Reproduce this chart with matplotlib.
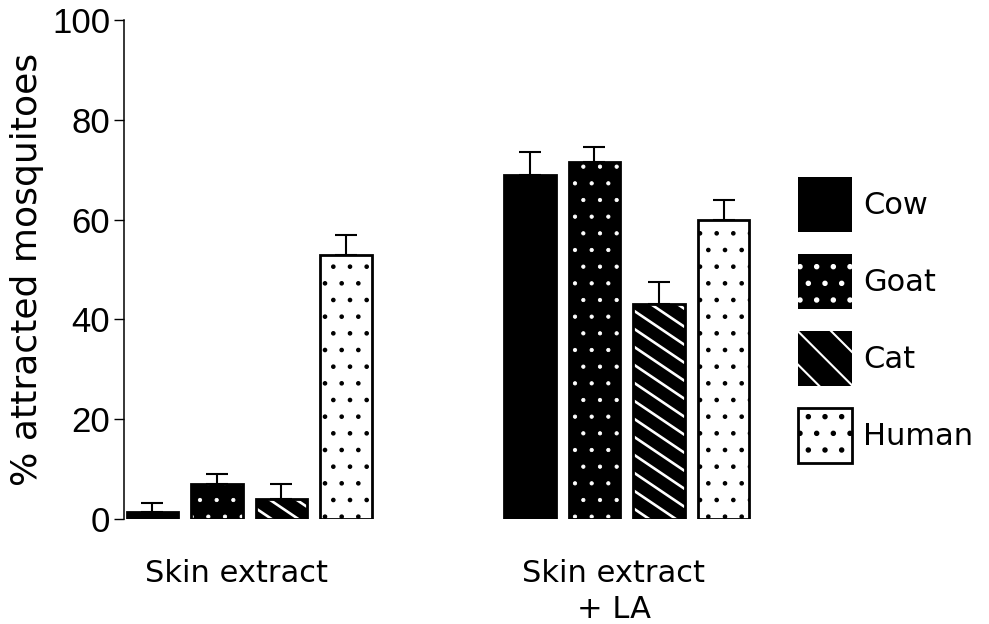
import matplotlib
matplotlib.use("Agg")
import matplotlib.pyplot as plt
from matplotlib.patches import Patch
import numpy as np

plt.rcParams['font.family'] = ['DejaVu Sans']

# Data
groups = ["Skin extract", "Skin extract\n+ LA"]
species = ["Cow", "Goat", "Cat", "Human"]
skin_extract = [1.5, 7.0, 4.0, 53.0]
skin_extract_err = [1.8, 2.0, 3.0, 4.0]
skin_extract_la = [69.0, 71.5, 43.0, 60.0]
skin_extract_la_err = [4.5, 3.0, 4.5, 4.0]
yticks = [0, 20, 40, 60, 80, 100]

# Bar styles per species: face colour, hatch colour, hatch
styles = {
    "Cow":   dict(face="black", hatchcol="black", hatch=None),
    "Goat":  dict(face="black", hatchcol="white", hatch="."),
    "Cat":   dict(face="black", hatchcol="white", hatch=None),
    "Human": dict(face="white", hatchcol="black", hatch="."),
}

fig = plt.figure(figsize=(9.89, 6.24), dpi=100)
ax = fig.add_axes([124 / 989, 1 - 519 / 624, 635 / 989, 499 / 624])
ax.set_xlim(-0.44, 9.4)
ax.set_ylim(0, 100)

n = len(species)
group_offsets = [0.0, 5.85]
width = 0.8
values = [skin_extract, skin_extract_la]
errors = [skin_extract_err, skin_extract_la_err]

# pixel scale of the data axes, used for the slanted stripe texture
sx = ax.bbox.width / (ax.get_xlim()[1] - ax.get_xlim()[0])
sy = ax.bbox.height / (ax.get_ylim()[1] - ax.get_ylim()[0])


def add_stripes(rect, angle_deg=34, pitch_px=18, lw=1.9):
    """White slanted stripes (upper-left to lower-right) clipped to a bar."""
    x0, y0 = rect.get_x(), rect.get_y()
    w, h = rect.get_width(), rect.get_height()
    t = np.tan(np.radians(angle_deg))
    wpx, hpx = w * sx, h * sy
    offs = np.arange(-pitch_px * 0.4, hpx + wpx * t + pitch_px, pitch_px)
    for c in offs:
        xs_px = np.array([0.0, wpx])
        ys_px = c - t * xs_px
        line, = ax.plot(x0 + xs_px / sx, y0 + ys_px / sy, color="white",
                        lw=lw, solid_capstyle="butt", zorder=2.5)
        line.set_clip_path(rect)


for g, off in enumerate(group_offsets):
    xs = off + np.arange(n)
    for i, sp in enumerate(species):
        st = styles[sp]
        with plt.rc_context({"hatch.linewidth": 0.9 if sp == "Human" else 0.6}):
            bars = ax.bar(xs[i], values[g][i], width=width, color=st["face"],
                          edgecolor=st["hatchcol"], hatch=st["hatch"],
                          linewidth=0, zorder=2)
        if sp == "Cat":
            add_stripes(bars[0])
        ax.bar(xs[i], values[g][i], width=width, fill=False,
               edgecolor="black", linewidth=2.0, zorder=3)
    ax.errorbar(xs, values[g], yerr=[np.zeros(n), errors[g]], fmt="none",
                ecolor="black", elinewidth=1.5, capsize=8, capthick=1.5, zorder=1)

# Group labels
centers = [off + (n - 1) / 2 - 0.2 for off in group_offsets]
for c, lab in zip(centers, groups):
    ax.text(c, -8.0, lab, ha="center", va="top", fontsize=22, linespacing=1.3)

ax.set_yticks(yticks)
ax.set_yticklabels([str(t) for t in yticks], fontsize=25, family="Liberation Sans")
ax.tick_params(axis="y", length=7.5, width=1, pad=2.5)
ax.set_xticks([])
for s in ["top", "right", "bottom"]:
    ax.spines[s].set_visible(False)
ax.spines["left"].set_linewidth(1.1)
ax.set_ylabel("% attracted mosquitoes", fontsize=26, labelpad=6)

# Legend
handles = []
for sp in species:
    st = styles[sp]
    if sp == "Cat":
        h = Patch(facecolor="black", edgecolor="white", hatch="\\", linewidth=0)
    elif sp == "Human":
        h = Patch(facecolor="white", edgecolor="black", hatch=".", linewidth=2.0)
    else:
        h = Patch(facecolor=st["face"], edgecolor=st["hatchcol"],
                  hatch=st["hatch"], linewidth=0)
    handles.append(h)
with plt.rc_context({"hatch.linewidth": 1.5}):
    leg = fig.legend(handles, species, loc="upper left",
                     bbox_to_anchor=(798 / 989, 1 - 177 / 624), frameon=False,
                     fontsize=22, handlelength=1.76, handleheight=2.39,
                     labelspacing=0.72, handletextpad=0.36, borderpad=0,
                     borderaxespad=0)

fig.savefig("out.png", dpi=100)
